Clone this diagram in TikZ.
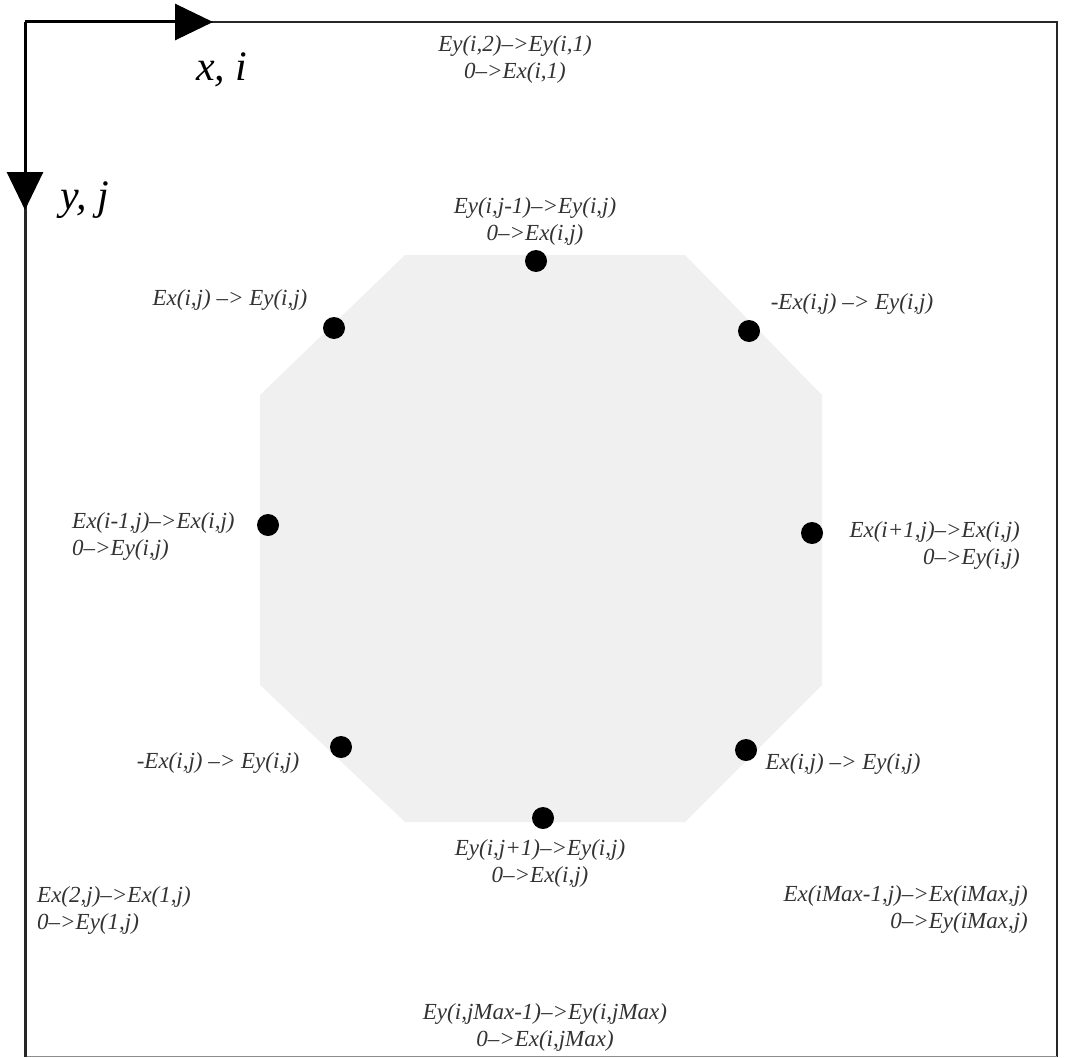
\documentclass[tikz,border=0pt]{standalone}
\usepackage{fontspec}
\setmainfont{Liberation Serif}
\usetikzlibrary{arrows.meta}
\newcommand{\lblfont}{\fontsize{23}{27}\selectfont\itshape}
\newcommand{\axfont}{\fontsize{42}{42}\selectfont\itshape}

\begin{document}
\begin{tikzpicture}[x=1pt,y=-1pt,
 lbl/.style={font=\lblfont,text=black!80,inner sep=0pt,align=center},
 dot/.style={circle,fill=black,inner sep=0pt,minimum size=22pt},
 axis/.style={line width=3pt,-{Triangle[length=38pt,width=36pt]}}]
 \useasboundingbox (0,0) rectangle (1065,1057);
 % cells inside the boundary
 \fill[black!6] (405,255) -- (685,255) -- (822,395) -- (822,685)
 -- (685,822) -- (405,822) -- (260,685) -- (260,395) -- cycle;
 % frame and axes
 \coordinate (O) at (25,22);
 \coordinate (xtip) at (213,22);
 \coordinate (ytip) at (25,210);
 \draw[line width=2.5pt,black!85] (O) -- (1057,22) -- (1057,1057);
 \draw[line width=1pt,black!45] (25,1056) -- (1057,1056);
 \draw[line width=3pt,black!85] (O) -- (25,1057);
 \draw[axis] (O) -- (xtip);
 \draw[axis] (O) -- (ytip);
 \node[font=\axfont] (xi) at (222,70) {x, i};
 \node[font=\axfont] (yj) at (85,200) {y, j};
 % points on the boundary
 \node[dot] (pN) at (536,261) {};
 \node[dot] (pNW) at (334,328) {};
 \node[dot] (pNE) at (749,331) {};
 \node[dot] (pW) at (268,525) {};
 \node[dot] (pE) at (812,533) {};
 \node[dot] (pSW) at (341,747) {};
 \node[dot] (pSE) at (746,750) {};
 \node[dot] (pS) at (543,818) {};
 % update rules
 \node[lbl] (lN) at (535,221) {Ey(i,j-1)–>Ey(i,j)\\0–>Ex(i,j)};
 \node[lbl] (lNW) at (230,300) {Ex(i,j) –> Ey(i,j)};
 \node[lbl] (lNE) at (852,304) {-Ex(i,j) –> Ey(i,j)};
 \node[lbl,anchor=west,align=left] (lW) at (72,536) {Ex(i-1,j)–>Ex(i,j)\\0–>Ey(i,j)};
 \node[lbl,anchor=east,align=right] (lE) at (1020,545) {Ex(i+1,j)–>Ex(i,j)\\0–>Ey(i,j)};
 \node[lbl] (lSW) at (218,763) {-Ex(i,j) –> Ey(i,j)};
 \node[lbl] (lSE) at (843,764) {Ex(i,j) –> Ey(i,j)};
 \node[lbl] (lS) at (540,863) {Ey(i,j+1)–>Ey(i,j)\\0–>Ex(i,j)};
 % update rules on the outer edges
 \node[lbl] (eTop) at (515,59) {Ey(i,2)–>Ey(i,1)\\0–>Ex(i,1)};
 \node[lbl,anchor=west,align=left] (eLeft) at (37,910) {Ex(2,j)–>Ex(1,j)\\0–>Ey(1,j)};
 \node[lbl,anchor=east,align=right] (eRight) at (1028,909) {Ex(iMax-1,j)–>Ex(iMax,j)\\0–>Ey(iMax,j)};
 \node[lbl] (eBot) at (545,1027) {Ey(i,jMax-1)–>Ey(i,jMax)\\0–>Ex(i,jMax)};
\end{tikzpicture}
\end{document}
